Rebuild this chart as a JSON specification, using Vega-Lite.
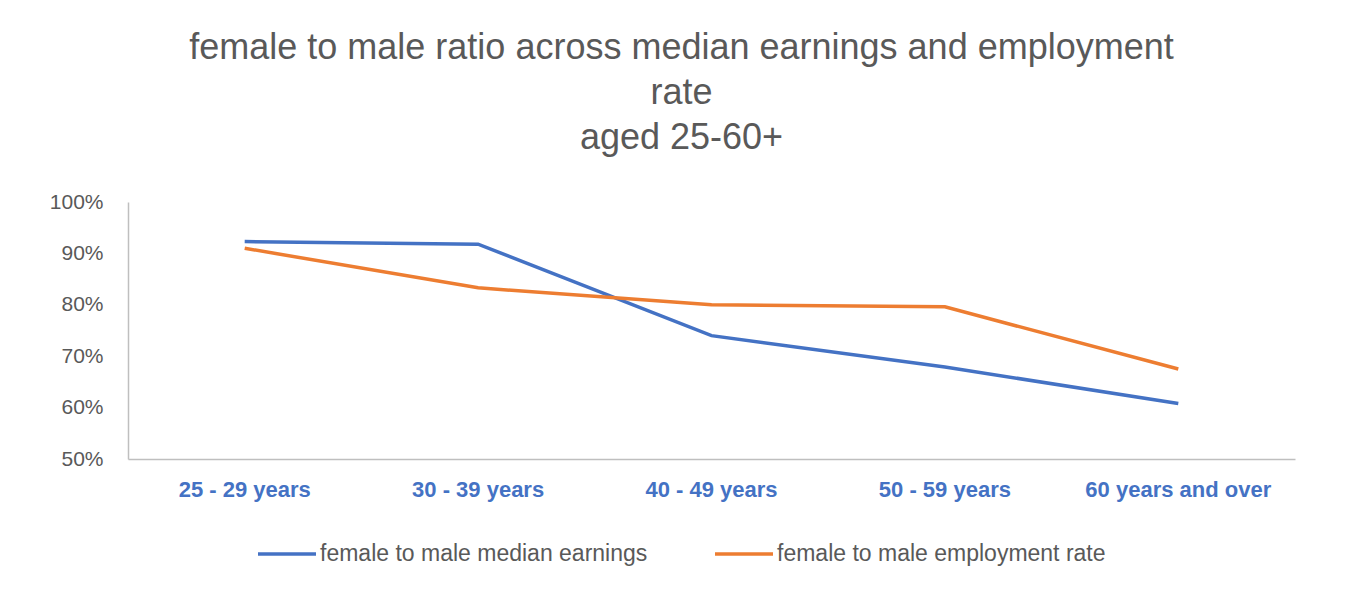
{
  "$schema": "https://vega.github.io/schema/vega-lite/v6.json",
  "width": 1167,
  "height": 257,
  "autosize": {"type": "none"},
  "padding": {"left": 128, "top": 202, "right": 69, "bottom": 138},
  "background": "white",
  "config": {"view": {"stroke": null}, "font": "Liberation Sans"},
  "title": {
    "text": ["female to male ratio across median earnings and employment", "rate", "aged 25-60+"],
    "fontSize": 36,
    "font": "Liberation Sans",
    "fontWeight": "normal",
    "color": "#595959",
    "lineHeight": 45,
    "anchor": "middle",
    "dx": -30,
    "offset": 34
  },
  "data": {
    "values": [
      {"age": "25 - 29 years", "series": "female to male median earnings", "value": 0.923},
      {"age": "30 - 39 years", "series": "female to male median earnings", "value": 0.918},
      {"age": "40 - 49 years", "series": "female to male median earnings", "value": 0.740},
      {"age": "50 - 59 years", "series": "female to male median earnings", "value": 0.679},
      {"age": "60 years and over", "series": "female to male median earnings", "value": 0.608},
      {"age": "25 - 29 years", "series": "female to male employment rate", "value": 0.910},
      {"age": "30 - 39 years", "series": "female to male employment rate", "value": 0.833},
      {"age": "40 - 49 years", "series": "female to male employment rate", "value": 0.800},
      {"age": "50 - 59 years", "series": "female to male employment rate", "value": 0.796},
      {"age": "60 years and over", "series": "female to male employment rate", "value": 0.675}
    ]
  },
  "mark": {"type": "line", "strokeWidth": 3.5},
  "encoding": {
    "x": {
      "field": "age",
      "type": "nominal",
      "sort": null,
      "scale": {"type": "band"},
      "axis": {
        "title": null,
        "labelAngle": 0,
        "labelFontSize": 22,
        "labelFontWeight": "bold",
        "labelColor": "#4472C4",
        "labelPadding": 20,
        "labelLimit": 0,
        "ticks": false,
        "domainColor": "#bfbfbf",
        "domainWidth": 1.5,
        "grid": false
      }
    },
    "y": {
      "field": "value",
      "type": "quantitative",
      "scale": {"domain": [0.5, 1.0], "nice": false, "zero": false},
      "axis": {
        "title": null,
        "values": [0.5, 0.6, 0.7, 0.8, 0.9, 1.0],
        "format": ".0%",
        "labelFontSize": 21,
        "labelColor": "#595959",
        "labelPadding": 25,
        "ticks": false,
        "grid": false,
        "domainColor": "#bfbfbf",
        "domainWidth": 1.5
      }
    },
    "color": {
      "field": "series",
      "type": "nominal",
      "sort": ["female to male median earnings", "female to male employment rate"],
      "scale": {"range": ["#4472C4", "#ED7D31"]},
      "legend": {
        "title": null,
        "orient": "none",
        "direction": "horizontal",
        "legendX": 128,
        "legendY": 321,
        "symbolType": "stroke",
        "symbolSize": 3364,
        "symbolStrokeWidth": 3.5,
        "labelFontSize": 23,
        "labelColor": "#595959",
        "labelOffset": 2,
        "labelLimit": 0,
        "columnPadding": 60
      }
    }
  }
}
